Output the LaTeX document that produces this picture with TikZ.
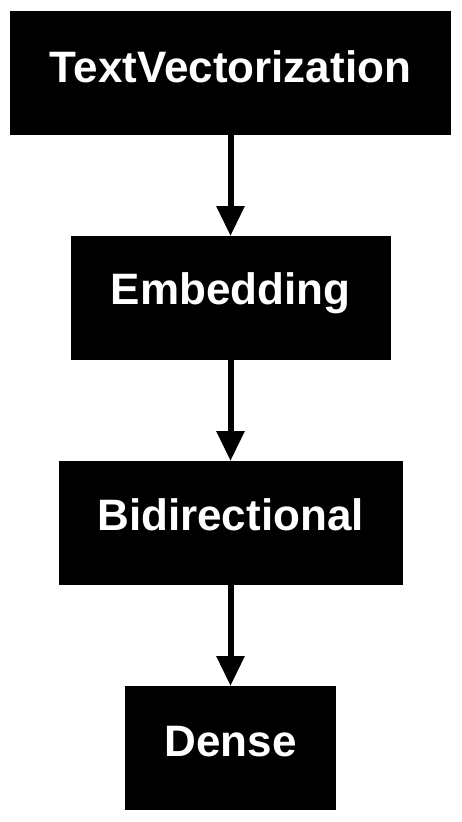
\documentclass[tikz,border=0pt]{standalone}
\usepackage{fontspec}
\setmainfont{Liberation Sans}
\usetikzlibrary{arrows.meta}
\begin{document}
\begin{tikzpicture}[x=1pt,y=-1pt,
  layer/.style={fill=black, draw=none, inner sep=0pt, outer sep=0pt, minimum height=124pt, anchor=north},
  lbl/.style={text=white, font=\fontsize{44pt}{48pt}\selectfont\bfseries, anchor=base, inner sep=0pt},
  flow/.style={line width=6pt, -{Triangle[width=27pt,length=30pt]}}]
\useasboundingbox (0,0) rectangle (461,822);
\node[layer, minimum width=441pt] (tv) at (230.5,11) {};
\node[layer, minimum width=320pt] (emb) at (230.5,236) {};
\node[layer, minimum width=344pt] (bid) at (230.5,461) {};
\node[layer, minimum width=211pt] (den) at (230.5,686) {};
\node[lbl] (tvl) at (230.5,82) {TextVectorization};
\node[lbl] (embl) at (230.5,304) {Embedding};
\node[lbl] (bidl) at (230.5,530) {Bidirectional};
\node[lbl] (denl) at (230.5,756) {Dense};
\draw[flow] (tv.south) -- (emb.north);
\draw[flow] (emb.south) -- (bid.north);
\draw[flow] (bid.south) -- (den.north);
\end{tikzpicture}
\end{document}
